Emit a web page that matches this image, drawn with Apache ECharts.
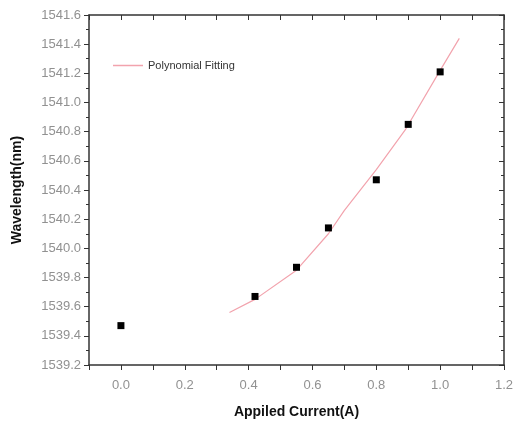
<!DOCTYPE html>
<html>
<head>
    <meta charset="utf-8">
    <title>Wavelength vs Current</title>
    <script src="https://cdn.jsdelivr.net/npm/echarts@6/dist/echarts.min.js"></script>
    <style>
        html, body { margin: 0; padding: 0; background: #fff; }
    </style>
</head>
<body>
    <div id="main" style="width: 522px;height:424px;"></div>
    <script type="text/javascript">
        // measured points
        var currentPts = [0.0, 0.42, 0.55, 0.65, 0.80, 0.90, 1.00];
        var wavePts = [1539.47, 1539.67, 1539.87, 1540.14, 1540.47, 1540.85, 1541.21];

        // fitted curve
        var fitX = [0.34, 0.42, 0.55, 0.65, 0.70, 0.80, 0.89, 1.00, 1.06];
        var fitY = [1539.56, 1539.65, 1539.85, 1540.10, 1540.26, 1540.54, 1540.81, 1541.22, 1541.44];

        var myChart = echarts.init(document.getElementById('main'));

        function pairs(xs, ys) {
            var out = [];
            for (var i = 0; i < xs.length; i++) out.push([xs[i], ys[i]]);
            return out;
        }

        var axisColor = '#333';
        var labelStyle = { color: '#919191', fontSize: 13, fontFamily: 'Liberation Sans, Arial, sans-serif' };
        var nameStyle = { color: '#111', fontSize: 14, fontWeight: 'bold', fontFamily: 'Liberation Sans, Arial, sans-serif' };

        var option = {
            animation: false,
            grid: { left: 89, right: 18, top: 15, bottom: 56 },
            legend: {
                data: [{ name: 'Polynomial Fitting', icon: 'rect' }],
                left: 108,
                top: 55,
                itemWidth: 30,
                itemHeight: 1.5,
                textStyle: { color: '#333', fontSize: 11, fontFamily: 'Liberation Sans, Arial, sans-serif' }
            },
            xAxis: [
                {
                    type: 'value',
                    position: 'bottom',
                    min: -0.1,
                    max: 1.2,
                    interval: 0.1,
                    name: 'Appiled Current(A)',
                    nameLocation: 'middle',
                    nameGap: 40,
                    nameTextStyle: nameStyle,
                    axisLine: { show: true, onZero: false, lineStyle: { color: axisColor, width: 1.5 } },
                    axisTick: { show: true, length: 5, lineStyle: { color: axisColor } },
                    axisLabel: Object.assign({
                        margin: 14,
                        formatter: function (v) {
                            var k = Math.round(v * 10);
                            return (k >= 0 && k % 2 === 0) ? (k / 10).toFixed(1) : '';
                        }
                    }, labelStyle),
                    splitLine: { show: false }
                },
                {
                    type: 'value',
                    position: 'top',
                    min: -0.1,
                    max: 1.2,
                    interval: 0.1,
                    axisLine: { show: true, onZero: false, lineStyle: { color: axisColor, width: 1.5 } },
                    axisTick: { show: true, inside: true, length: 5, lineStyle: { color: axisColor } },
                    axisLabel: { show: false },
                    splitLine: { show: false }
                }
            ],
            yAxis: [
                {
                    type: 'value',
                    position: 'left',
                    min: 1539.2,
                    max: 1541.6,
                    interval: 0.2,
                    name: 'Wavelength(nm)',
                    nameLocation: 'middle',
                    nameGap: 65,
                    nameTextStyle: nameStyle,
                    axisLine: { show: true, onZero: false, lineStyle: { color: axisColor, width: 1.5 } },
                    axisTick: { show: true, length: 5, lineStyle: { color: axisColor } },
                    minorTick: { show: true, splitNumber: 2, length: 3, lineStyle: { color: axisColor } },
                    axisLabel: Object.assign({
                        margin: 8,
                        formatter: function (v) { return v.toFixed(1); }
                    }, labelStyle),
                    splitLine: { show: false }
                },
                {
                    type: 'value',
                    position: 'right',
                    min: 1539.2,
                    max: 1541.6,
                    interval: 0.2,
                    axisLine: { show: true, onZero: false, lineStyle: { color: axisColor, width: 1.5 } },
                    axisTick: { show: true, inside: true, length: 5, lineStyle: { color: axisColor } },
                    minorTick: { show: true, splitNumber: 2, length: 3, lineStyle: { color: axisColor } },
                    axisLabel: { show: false },
                    splitLine: { show: false }
                }
            ],
            series: [
                {
                    name: 'Polynomial Fitting',
                    type: 'line',
                    symbol: 'none',
                    smooth: false,
                    data: pairs(fitX, fitY),
                    lineStyle: { color: '#f2a3ad', width: 1.2 },
                    itemStyle: { color: '#f2a3ad' },
                    z: 2
                },
                {
                    name: 'Measured',
                    type: 'scatter',
                    symbol: 'rect',
                    symbolSize: 7,
                    data: pairs(currentPts, wavePts),
                    itemStyle: { color: '#000', opacity: 1 },
                    z: 3
                }
            ]
        };

        myChart.setOption(option);
    </script>
</body>
</html>
